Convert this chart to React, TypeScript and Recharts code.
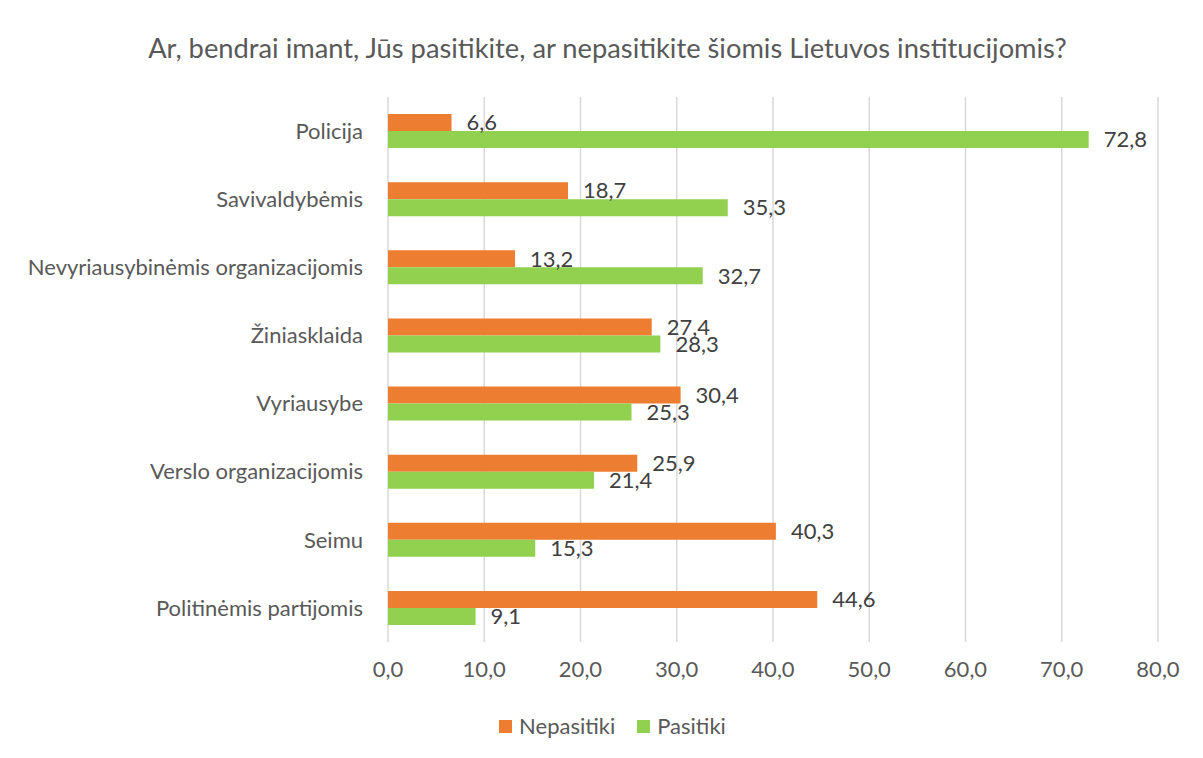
import React from "react";
import { BarChart, Bar, XAxis, YAxis, CartesianGrid, LabelList } from "recharts";

const categories = [
  "Policija",
  "Savivaldybėmis",
  "Nevyriausybinėmis organizacijomis",
  "Žiniasklaida",
  "Vyriausybe",
  "Verslo organizacijomis",
  "Seimu",
  "Politinėmis partijomis",
];
const nepasitiki = [6.6, 18.7, 13.2, 27.4, 30.4, 25.9, 40.3, 44.6];
const pasitiki = [72.8, 35.3, 32.7, 28.3, 25.3, 21.4, 15.3, 9.1];
const xTicks = [0, 10, 20, 30, 40, 50, 60, 70, 80];
const seriesNames = ["Nepasitiki", "Pasitiki"];
const title = "Ar, bendrai imant, Jūs pasitikite, ar nepasitikite šiomis Lietuvos institucijomis?";

const data = categories.map((c, i) => ({ name: c, Nepasitiki: nepasitiki[i], Pasitiki: pasitiki[i] }));

const FONT = "Lato, 'Open Sans', sans-serif";
const ORANGE = "#ED7D31";
const GREEN = "#92D050";
const COLORS = [ORANGE, GREEN];
const fmt = (v: any) => Number(v).toFixed(1).replace(".", ",");

export default function App() {
  return (
    <div style={{ position: "relative", width: 1196, height: 751, borderLeft: "1px solid #d9d9d9", borderTop: "1px solid #d9d9d9", boxSizing: "border-box", marginLeft: -1, marginTop: -1, background: "#fff", overflow: "hidden" }}>
      <div style={{ position: "absolute", top: 23, left: 2, width: 1195, textAlign: "center", fontFamily: FONT, fontSize: 27.3, lineHeight: "34px", color: "#595959", whiteSpace: "nowrap" }}>
        {title}
      </div>
      <BarChart
        width={1195}
        height={750}
        data={data}
        layout="vertical"
        margin={{ top: 89, right: 45, bottom: 66, left: 0 }}
        barGap={0}
        style={{ position: "absolute", top: 0, left: 0 }}
      >
        <CartesianGrid horizontal={false} vertical={true} stroke="#d9d9d9" strokeWidth={1.5} />
        <XAxis
          type="number"
          domain={[0, 80]}
          ticks={xTicks}
          tickFormatter={fmt}
          axisLine={false}
          tickLine={false}
          tickSize={0}
          tickMargin={19}
          height={50}
          tick={{ fill: "#595959", fontSize: 22, fontFamily: FONT }}
        />
        <YAxis
          type="category"
          dataKey="name"
          width={380}
          axisLine={false}
          tickLine={false}
          tickSize={0}
          tickMargin={25}
          interval={0}
          tick={{ fill: "#595959", fontSize: 22, fontFamily: FONT }}
        />
        <Bar dataKey="Nepasitiki" fill={ORANGE} barSize={17} isAnimationActive={false}>
          <LabelList dataKey="Nepasitiki" position="right" offset={15} formatter={fmt} style={{ fill: "#404040", fontSize: 22, fontFamily: FONT }} />
        </Bar>
        <Bar dataKey="Pasitiki" fill={GREEN} barSize={17} isAnimationActive={false}>
          <LabelList dataKey="Pasitiki" position="right" offset={15} formatter={fmt} style={{ fill: "#404040", fontSize: 22, fontFamily: FONT }} />
        </Bar>
      </BarChart>
      <div style={{ position: "absolute", top: 703, left: 7, width: 1195, display: "flex", justifyContent: "center", alignItems: "center", fontFamily: FONT, fontSize: 22, lineHeight: "30px", color: "#595959" }}>
        {seriesNames.map((n, i) => (
          <div key={n} style={{ display: "flex", alignItems: "center", margin: "0 11px" }}>
            <span style={{ display: "inline-block", width: 13, height: 13, background: COLORS[i], marginRight: 7 }} />
            <span>{n}</span>
          </div>
        ))}
      </div>
    </div>
  );
}
